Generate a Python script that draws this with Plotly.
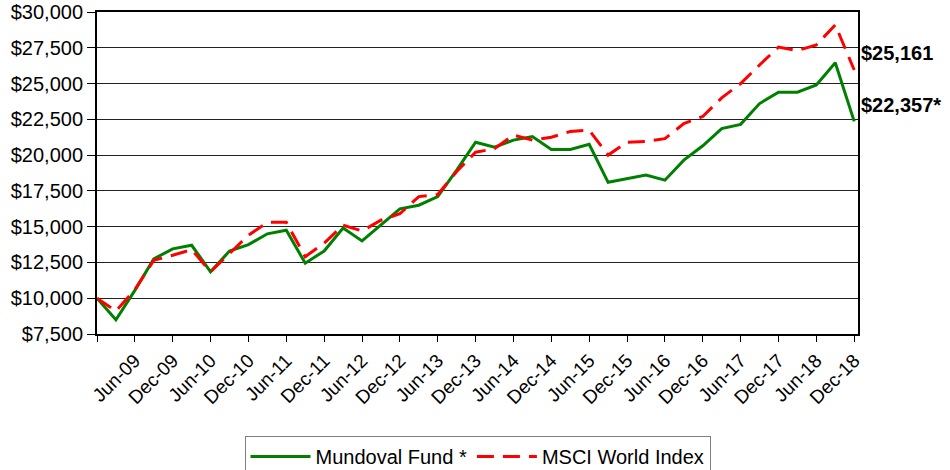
import plotly.graph_objects as go

# Quarterly values, Dec-08 .. Dec-18 (41 points)
mundoval = [10000, 8500, 10550, 12750, 13450, 13700, 11850, 13300, 13750, 14500,
            14750, 12450, 13300, 14900, 14000, 15100, 16250, 16500, 17100, 18950,
            20900, 20550, 21050, 21300, 20400, 20400, 20750, 18100, 18350, 18600,
            18250, 19650, 20650, 21850, 22150, 23600, 24400, 24400, 24900, 26450,
            22357]
msci = [10000, 9100, 10600, 12650, 13000, 13400, 11850, 13150, 14400, 15300,
        15300, 12900, 13850, 15100, 14700, 15450, 15900, 17100, 17250, 18850,
        20200, 20450, 21400, 21050, 21250, 21650, 21750, 20000, 20900, 20950,
        21150, 22200, 22700, 24000, 25000, 26300, 27550, 27300, 27700, 29100,
        25950]
x_labels = ["", "Jun-09", "Dec-09", "Jun-10", "Dec-10", "Jun-11", "Dec-11", "Jun-12",
            "Dec-12", "Jun-13", "Dec-13", "Jun-14", "Dec-14", "Jun-15", "Dec-15",
            "Jun-16", "Dec-16", "Jun-17", "Dec-17", "Jun-18", "Dec-18"]
y_ticks = [7500, 10000, 12500, 15000, 17500, 20000, 22500, 25000, 27500, 30000]
y_labels = ["$7,500", "$10,000", "$12,500", "$15,000", "$17,500", "$20,000",
            "$22,500", "$25,000", "$27,500", "$30,000"]
end_labels = {"Mundoval Fund *": "$22,357*", "MSCI World Index": "$25,161"}

idx = list(range(len(mundoval)))
FONT = "Liberation Sans, Arial, sans-serif"

fig = go.Figure()
fig.add_trace(go.Scatter(x=idx, y=mundoval, mode="lines", name="Mundoval Fund *",
                         line=dict(color="#008000", width=3), cliponaxis=False))
fig.add_trace(go.Scatter(x=idx, y=msci, mode="lines", name="MSCI World Index",
                         line=dict(color="#FF0000", width=3, dash="17px,9px"),
                         cliponaxis=False))

fig.add_annotation(x=idx[-1], y=msci[-1], text="<b>" + end_labels["MSCI World Index"] + "</b>",
                   showarrow=False, xanchor="left", yanchor="middle", xshift=5, yshift=17,
                   font=dict(family=FONT, size=20, color="black"))
fig.add_annotation(x=idx[-1], y=mundoval[-1], text="<b>" + end_labels["Mundoval Fund *"] + "</b>",
                   showarrow=False, xanchor="left", yanchor="middle", xshift=5, yshift=16,
                   font=dict(family=FONT, size=20, color="black"))

fig.update_layout(
    width=950, height=470,
    margin=dict(l=97, r=92, t=12, b=136, autoexpand=False),
    plot_bgcolor="white", paper_bgcolor="white",
    font=dict(family=FONT, size=20, color="black"),
    showlegend=True,
    legend=dict(orientation="h", x=0.5, xanchor="center", y=-0.317, yanchor="top",
                bordercolor="#808080", borderwidth=1, bgcolor="white",
                font=dict(family=FONT, size=20, color="black"), itemwidth=60,
                traceorder="normal"),
)
fig.update_xaxes(range=[0, 40.2], tickvals=list(range(0, 41, 2)), ticktext=x_labels,
                 tickangle=-45, ticks="outside", ticklen=6, tickcolor="black",
                 showline=True, linecolor="black", linewidth=2, mirror=True,
                 showgrid=False, zeroline=False, automargin=False,
                 tickfont=dict(family=FONT, size=19, color="black"))
fig.update_yaxes(range=[7500, 30000], tickvals=y_ticks, ticktext=y_labels,
                 ticks="outside", ticklen=8, tickcolor="black",
                 showline=True, linecolor="black", linewidth=2, mirror=True,
                 showgrid=True, gridcolor="#222222", gridwidth=1, zeroline=False,
                 automargin=False,
                 tickfont=dict(family=FONT, size=20, color="black"))

fig.write_html("out.html", config={"displayModeBar": False},
               post_script="document.body.style.margin='0';document.body.style.overflow='hidden';")
